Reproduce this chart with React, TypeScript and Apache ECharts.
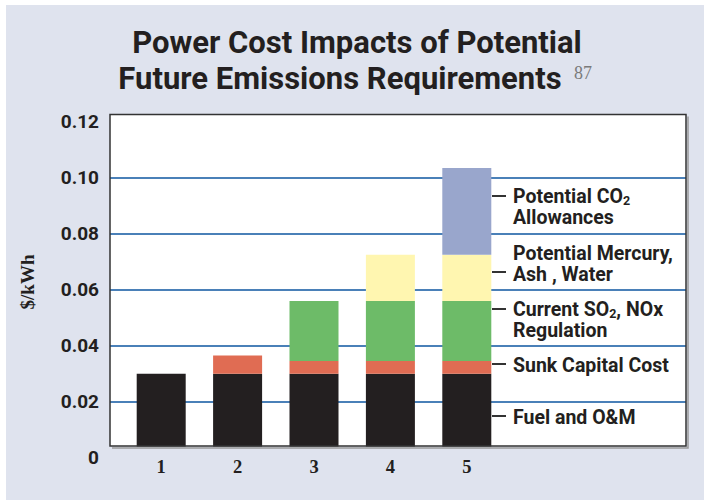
import React, { useEffect, useRef } from "react";
import * as echarts from "echarts";

const categories = ["1", "2", "3", "4", "5"];
const fuelOM = [0.03, 0.03, 0.03, 0.03, 0.03];
const sunkCapital = [null, 0.0065, 0.0045, 0.0045, 0.0045];
const currentRegulation = [null, null, 0.0215, 0.0215, 0.0215];
const mercuryAshWater = [null, null, null, 0.0165, 0.0165];
const co2Allowances = [null, null, null, null, 0.031];
const yTicks = [0, 0.02, 0.04, 0.06, 0.08, 0.1, 0.12];

const BG = "#dfe3ee";
const TXT = "#231f20";
const SANS = "Roboto, 'Noto Sans', sans-serif";
const SERIF = "'Liberation Serif', 'DejaVu Serif', serif";

export default function App() {
  const ref = useRef<HTMLDivElement>(null);
  useEffect(() => {
    const chart = echarts.init(ref.current!, null, { renderer: "svg" });
    const gridTop = 121.7;
    const gridBottom = 500 - 457.7;
    const legendText = (y: number, t: string) => ({
      type: "text",
      x: 513,
      y,
      z: 10,
      style: {
        text: t,
        fill: TXT,
        font: `bold 19.5px ${SANS}`,
        verticalAlign: "middle",
        align: "left",
        lineHeight: 21,
        rich: {
          sub: { fontSize: 12.5, verticalAlign: "bottom", fill: TXT, fontWeight: "bold", fontFamily: SANS, padding: [8, 0, 0, 0] },
        },
      },
    });
    const tick = (y: number) => ({
      type: "line",
      z: 10,
      shape: { x1: 492, y1: y, x2: 506, y2: y },
      style: { stroke: "#333", lineWidth: 2 },
    });
    const barSeries = (name: string, data: (number | null)[], color: string) => ({
      name,
      type: "bar",
      stack: "total",
      xAxisIndex: 1,
      yAxisIndex: 1,
      barWidth: 49,
      data,
      itemStyle: { color },
    });
    chart.setOption({
      animation: false,
      backgroundColor: "#ffffff",
      grid: [
        { left: 110, right: 18, top: gridTop, bottom: gridBottom },
        { left: 123, right: 199, top: gridTop, bottom: gridBottom },
      ],
      xAxis: [
        { type: "value", gridIndex: 0, show: false, min: 0, max: 1 },
        {
          type: "category",
          gridIndex: 1,
          data: categories,
          axisLine: { show: false },
          axisTick: { show: false },
          axisLabel: {
            color: TXT,
            fontFamily: SERIF,
            fontWeight: "bold",
            fontSize: 18.5,
            margin: 9,
            verticalAlign: "middle",
          },
        },
      ],
      yAxis: [
        {
          type: "value",
          gridIndex: 0,
          min: yTicks[0],
          max: yTicks[yTicks.length - 1],
          interval: 0.02,
          axisLine: { show: false },
          axisTick: { show: false },
          axisLabel: {
            color: TXT,
            fontFamily: SANS,
            fontWeight: "bold",
            fontSize: 19,
            margin: 11,
            formatter: (v: number) => (v === 0 ? "0" : v.toFixed(2)),
          },
          splitLine: {
            show: true,
            showMinLine: false,
            showMaxLine: false,
            lineStyle: { color: "#4a80b8", width: 2 },
          },
        },
        {
          type: "value",
          gridIndex: 1,
          min: yTicks[0],
          max: yTicks[yTicks.length - 1],
          interval: 0.02,
          show: false,
          splitLine: { show: false },
        },
      ],
      series: [
        barSeries("Fuel and O&M", fuelOM, "#231f20"),
        barSeries("Sunk Capital Cost", sunkCapital, "#e06c53"),
        barSeries("Current SO2, NOx Regulation", currentRegulation, "#6dbb68"),
        barSeries("Potential Mercury, Ash, Water", mercuryAshWater, "#fff6b0"),
        barSeries("Potential CO2 Allowances", co2Allowances, "#99a6cc"),
      ],
      graphic: [
        { type: "rect", z: -10, shape: { x: 6, y: 5, width: 698, height: 495 }, style: { fill: BG } },
        { type: "rect", z: -9, shape: { x: 110, y: 114.5, width: 576, height: 331.5 }, style: { fill: "#ffffff" } },
        { type: "rect", z: 5, shape: { x: 109, y: 446.5, width: 580, height: 13 }, style: { fill: BG } },
        {
          type: "polyline", z: 6,
          shape: { points: [[688, 116.5], [688, 448], [112, 448]] },
          style: { fill: "none", stroke: "#9a9a9a", lineWidth: 1.5 },
        },
        { type: "rect", z: 7, shape: { x: 110, y: 114.5, width: 576, height: 331.5 }, style: { fill: "#ffffff00", stroke: "#333333", lineWidth: 1.5 } },
        {
          type: "text", z: 10, x: 357, y: 42,
          style: { text: "Power Cost Impacts of Potential", fill: TXT, font: `bold 31px ${SANS}`, align: "center", verticalAlign: "middle" },
        },
        {
          type: "text", z: 10, x: 340, y: 78,
          style: { text: "Future Emissions Requirements", fill: TXT, font: `bold 31px ${SANS}`, align: "center", verticalAlign: "middle" },
        },
        {
          type: "text", z: 10, x: 574, y: 73,
          style: { text: "87", fill: "#7a7a7a", font: `18px ${SERIF}`, align: "left", verticalAlign: "middle" },
        },
        {
          type: "text", z: 10, x: 27, y: 282, rotation: Math.PI / 2,
          style: { text: "$/kWh", fill: TXT, font: `bold 19px ${SERIF}`, align: "center", verticalAlign: "middle" },
        },
        legendText(207, "Potential CO{sub|2}\nAllowances"),
        legendText(263.5, "Potential Mercury,\nAsh , Water"),
        legendText(319.5, "Current SO{sub|2}, NOx\nRegulation"),
        legendText(365, "Sunk Capital Cost"),
        legendText(417, "Fuel and O&M"),
        tick(196),
        tick(272),
        tick(309),
        tick(364),
        tick(416),
      ],
    });
    return () => chart.dispose();
  }, []);
  return <div ref={ref} style={{ position: "fixed", left: 0, top: 0, width: 704, height: 500 }} />;
}
